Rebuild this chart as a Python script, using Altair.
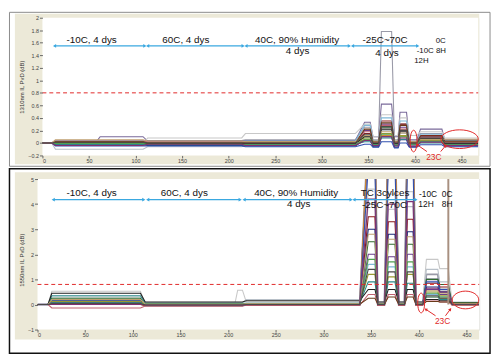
import altair as alt
import pandas as pd

# ---------------- data: top panel (1310nm) ----------------
TOP_PHASE_START = [0, 14, 62, 113, 218, 346, 355, 364, 378, 384, 394, 406, 432]
TOP_PHASE_END = [10, 58, 108, 214, 336, 352, 361, 375, 382, 391, 402, 429, 468]
TOP_LEVELS = [
    [0, 0.02, 0.02, 0.04, 0.05, 0.25, 0.05, 1.78, 0.05, 0.30, 0.03, 0.15, 0.02],
    [0, 0.02, 0.10, 0.03, 0.04, 0.33, 0.10, 0.62, 0.10, 0.49, 0.05, 0.22, 0.05],
    [0, -0.02, -0.02, 0.08, 0.15, 0.30, 0.10, 0.45, 0.12, 0.40, 0.12, 0.18, 0.08],
    [0, -0.10, -0.10, -0.06, -0.04, 0.10, -0.05, 0.20, -0.06, 0.15, -0.05, 0.05, -0.04],
    [0, 0.03, 0.03, 0.01, 0.00, 0.15, 0.02, 0.35, 0.00, 0.30, 0.00, 0.12, 0.02],
    [0, -0.03, -0.03, -0.04, -0.05, 0.05, -0.06, 0.10, -0.07, 0.05, -0.06, 0.02, -0.05],
    [0, 0.00, 0.00, -0.02, 0.00, 0.12, 0.00, 0.25, 0.00, 0.20, 0.00, 0.08, 0.00],
    [0, 0.01, 0.01, 0.00, -0.02, 0.20, -0.02, 0.30, -0.02, 0.25, -0.03, 0.10, -0.03],
    [0, 0.04, 0.04, 0.02, 0.03, 0.28, 0.04, 0.40, 0.03, 0.35, 0.02, 0.14, 0.04],
    [0, 0.02, 0.02, 0.00, 0.02, 0.08, 0.01, 0.15, 0.01, 0.12, 0.01, 0.06, 0.01],
    [0, 0.01, 0.01, -0.01, 0.01, 0.05, 0.00, 0.12, 0.00, 0.10, 0.00, 0.04, 0.00],
    [0, -0.02, -0.02, -0.03, -0.02, 0.02, -0.03, 0.08, -0.04, 0.06, -0.03, 0.00, -0.02],
    [0, 0.00, 0.00, -0.01, -0.01, 0.10, -0.01, 0.22, -0.01, 0.18, -0.01, 0.07, -0.01],
    [0, 0.03, 0.03, 0.02, 0.01, 0.18, 0.01, 0.28, 0.01, 0.22, 0.00, 0.09, 0.01],
    [0, -0.05, -0.05, -0.05, -0.06, -0.02, -0.07, 0.02, -0.08, 0.00, -0.07, -0.03, -0.06],
    [0, 0.02, 0.02, 0.00, 0.00, 0.22, 0.02, 0.32, 0.02, 0.28, 0.01, 0.11, 0.03],
    [0, -0.01, -0.01, -0.02, -0.03, 0.06, -0.03, 0.14, -0.03, 0.10, -0.02, 0.03, -0.03],
    [0, 0.05, 0.05, 0.03, 0.02, 0.12, 0.03, 0.18, 0.03, 0.16, 0.02, 0.06, 0.06],
    [0, -0.04, -0.04, -0.02, -0.04, 0.04, -0.04, 0.10, -0.05, 0.08, -0.05, 0.01, -0.04],
    [0, 0.01, 0.01, 0.00, 0.00, 0.14, 0.00, 0.26, 0.00, 0.20, 0.00, 0.08, 0.00],
]
TOP_COLORS = ["#9a9aa8", "#7a6a9a", "#c8c8c8", "#b8c0c8", "#8b1a1a", "#1c2a78", "#2e6b2e",
              "#6a3d8a", "#7fb8d8", "#9a9a30", "#d08a30", "#2a8a8a", "#202020", "#c06070",
              "#3050b0", "#6a3a1a", "#50a050", "#c0a070", "#803070", "#4a4a4a"]
TOP_WIDTHS = [1.1] * 20

TOP_ARROW_X1 = [13, 113, 218.6, 333]
TOP_ARROW_X2 = [110, 215.5, 329.6, 403]
TOP_ARROW_Y = 1.55
TOP_TEXT = ["-10C, 4 dys", "60C, 4 dys", "40C, 90% Humidity", "4 dys", "-25C~70C", "4 dys",
            "0C", "-10C 8H", "12H"]
TOP_TEXT_X = [52.8, 154, 273.5, 274, 368, 370, 427.7, 417.6, 407]
TOP_TEXT_Y = [1.65, 1.65, 1.645, 1.465, 1.65, 1.43, 1.62, 1.465, 1.31]
TOP_ELLIPSE_X = [398.6, 448]
TOP_ELLIPSE_Y = [0.03, 0.06]
TOP_RED_X1 = [412.9, 427.7]
TOP_RED_Y1 = [-0.138, -0.138]
TOP_RED_X2 = [402.3, 433]
TOP_RED_Y2 = [-0.028, -0.044]
TOP_23C = (420.3, -0.233)

# ---------------- data: bottom panel (1550nm) ----------------
BOT_PHASE_START = [0, 15, 113, 210, 219, 347, 357, 368, 379, 388, 397, 408, 422, 435]
BOT_PHASE_END = [11, 108, 207, 215, 338, 354, 364, 375, 385, 394, 404, 420, 431, 463]
BOT_LEVELS = [
    [0, 0.10, -0.03, -0.03, 0.00, 7.0, 0.00, 7.0, 0.00, 7.0, 0.00, 1.20, 0.60, 0.02],
    [0, 0.05, -0.04, -0.04, -0.01, 6.5, -0.01, 6.5, -0.01, 6.5, 0.00, 1.00, 0.50, 0.00],
    [0, 0.53, 0.02, 0.57, 0.10, 4.6, 0.05, 4.4, 0.05, 4.5, 0.05, 1.80, 1.43, 0.05],
    [0, 0.30, 0.08, 0.08, 0.20, 4.0, 0.10, 3.8, 0.10, 3.9, 0.10, 1.40, 0.90, 0.10],
    [0, 0.00, -0.05, -0.05, -0.02, 3.5, -0.02, 3.3, -0.02, 3.4, -0.02, 0.85, 0.70, -0.02],
    [0, 0.15, 0.00, 0.00, 0.00, 3.0, 0.00, 2.8, 0.00, 2.9, 0.00, 0.70, 0.50, 0.02],
    [0, 0.25, -0.02, -0.02, 0.00, 2.5, 0.00, 2.4, 0.00, 2.4, 0.00, 1.00, 0.80, 0.00],
    [0, 0.10, 0.00, 0.00, 0.02, 2.0, 0.02, 1.9, 0.02, 2.0, 0.02, 0.60, 0.40, 0.03],
    [0, 0.05, 0.00, 0.00, 0.00, 1.6, 0.00, 1.5, 0.00, 1.5, 0.00, 0.40, 0.30, 0.02],
    [0, 0.12, 0.03, 0.03, 0.02, 1.2, 0.02, 1.1, 0.02, 1.2, 0.02, 0.50, 0.35, 0.04],
    [0, 0.02, -0.03, -0.03, -0.02, 7.0, -0.02, 7.0, -0.02, 7.0, -0.02, 0.30, 0.25, -0.01],
    [0, 0.35, 0.05, 0.05, 0.05, 0.9, 0.03, 0.9, 0.03, 0.85, 0.03, 0.30, 0.20, 0.03],
    [0, 0.45, 0.10, 0.10, 0.15, 0.6, 0.10, 0.6, 0.10, 0.6, 0.10, 0.20, 0.15, 0.08],
    [0, -0.14, -0.06, -0.06, -0.03, 0.4, -0.03, 0.4, -0.03, 0.4, -0.03, 0.14, 0.10, -0.02],
    [0, 0.08, -0.01, -0.01, 0.00, 5.5, 0.00, 5.5, 0.00, 5.5, 0.00, 0.90, 0.60, 0.00],
    [0, 0.02, 0.00, 0.00, 0.01, 0.25, 0.01, 0.3, 0.01, 0.3, 0.01, 0.12, 0.10, 0.05],
    [0, 0.06, 0.02, 0.02, 0.01, 1.8, 0.01, 1.7, 0.01, 1.7, 0.01, 0.45, 0.30, 0.06],
    [0, 0.20, 0.01, 0.01, 0.03, 2.8, 0.02, 2.6, 0.02, 2.7, 0.02, 0.55, 0.45, 0.04],
    [0, 0.00, -0.02, -0.02, -0.01, 4.2, -0.01, 4.0, -0.01, 4.1, -0.01, 0.65, 0.50, 0.00],
    [0, 0.04, -0.02, -0.02, 0.00, 1.4, 0.00, 1.3, 0.00, 1.3, 0.00, 0.35, 0.25, 0.01],
]
BOT_COLORS = ["#8b1a2a", "#7a3020", "#a0a0b0", "#80c0e0", "#1c2a78", "#2e6b2e", "#6a3d8a",
              "#9a9a30", "#e09030", "#2a8a8a", "#202020", "#d07080", "#c0c0c0", "#3050b0",
              "#802060", "#d0c030", "#50a050", "#c0a070", "#505050", "#d05030"]
BOT_WIDTHS = [1.9, 1.6] + [1.1] * 18
BOT_MARKER_X = [431]
BOT_ARROW_X1 = [16.5, 115.6, 216.7, 332]
BOT_ARROW_X2 = [111.5, 212.6, 329, 397]
BOT_ARROW_Y = 4.18
BOT_TEXT = ["-10C, 4 dys", "60C, 4 dys", "40C, 90% Humidity", "4 dys", "TC 3cylces", "-25C~70C",
            "-10C", "12H", "0C", "8H"]
BOT_TEXT_X = [56.8, 154, 271.4, 274, 364.6, 364, 409.7, 407.6, 429.8, 429.8]
BOT_TEXT_Y = [4.45, 4.45, 4.45, 4.02, 4.45, 3.98, 4.41, 4.02, 4.41, 4.02]
BOT_ELLIPSE_X = [402.5, 449]
BOT_ELLIPSE_Y = [0.06, 0.18]
BOT_RED_X1 = [417.6, 428]
BOT_RED_Y1 = [-0.45, -0.45]
BOT_RED_X2 = [407.3, 433.1]
BOT_RED_Y2 = [-0.19, -0.19]
BOT_23C = (425, -0.65)

LIMIT = 0.8

# ---------------- styling ----------------
FONT = "Liberation Sans"
BEIGE = "#ECE9D8"
ARROW_BLUE = "#3aa8e0"
RED = "#e02828"


def phase_table(starts, ends, levels, widths):
    rows = []
    for si, lv in enumerate(levels):
        for pi, (a, b) in enumerate(zip(starts, ends)):
            rows.append({"s": f"s{si:02d}", "x": a, "y": lv[pi], "o": 2 * pi, "w": widths[si]})
            rows.append({"s": f"s{si:02d}", "x": b, "y": lv[pi], "o": 2 * pi + 1, "w": widths[si]})
    return pd.DataFrame(rows)


def ellipse_path(w, h):
    m = max(w, h)
    rx, ry = w / m, h / m
    return f"M {-rx} 0 A {rx} {ry} 0 1 0 {rx} 0 A {rx} {ry} 0 1 0 {-rx} 0 Z", m * m


one = pd.DataFrame({"a": [0]})


def panel(starts, ends, levels, colors, widths, xdom, xrange_, ydom, yvals, ytitle, yaxis_off,
          title_x, title_y, width, height, frame, beige, white, frame_color, frame_w,
          arrow_x1, arrow_x2, arrow_y, texts, tx, ty, tsizes, ell_x, ell_y, ell_wh,
          red_x1, red_y1, red_x2, red_y2, red_angles, t23, marker_x=None):
    xs = alt.Scale(domain=xdom, range=xrange_, nice=False, zero=False)
    ys = alt.Scale(domain=ydom, nice=False, zero=False)
    xaxis = alt.Axis(values=list(range(0, 451, 50)), title=None, domain=False, grid=False,
                     tickSize=2.5, tickColor="#666", labelFontSize=5.5, labelColor="#444",
                     labelPadding=1, labelFont=FONT, zindex=1)
    yaxis_kw = dict(values=yvals, title=ytitle, domain=False, grid=False, tickSize=3,
                    tickColor="#666", labelFontSize=5.5, labelColor="#444", labelPadding=1,
                    labelFont=FONT, format="~g", titleFontSize=6, titleFontWeight="normal",
                    titleColor="#333", titleFont=FONT, titleX=title_x, titleY=title_y,
                    titleAngle=270, titleAlign="center", titleBaseline="middle", zindex=1)
    if yaxis_off != 0:
        yaxis_kw["offset"] = yaxis_off
    yaxis = alt.Axis(**yaxis_kw)

    def X(f):
        return alt.X(f, type="quantitative", scale=xs, axis=xaxis)

    def Y(f):
        return alt.Y(f, type="quantitative", scale=ys, axis=yaxis)

    fr = alt.Chart(one).mark_rect(fillOpacity=0, stroke=frame_color, strokeWidth=frame_w).encode(
        x=alt.value(frame[0]), x2=alt.value(frame[1]), y=alt.value(frame[2]), y2=alt.value(frame[3]))
    bg = alt.Chart(one).mark_rect(fill=BEIGE).encode(
        x=alt.value(beige[0]), x2=alt.value(beige[1]), y=alt.value(beige[2]), y2=alt.value(beige[3]))
    wh = alt.Chart(one).mark_rect(fill="white").encode(
        x=alt.value(white[0]), x2=alt.value(white[1]), y=alt.value(white[2]), y2=alt.value(white[3]))

    df = phase_table(starts, ends, levels, widths)
    names = [f"s{i:02d}" for i in range(len(levels))]
    lines = alt.Chart(df).mark_line(clip=True).encode(
        x=X("x"), y=Y("y"),
        color=alt.Color("s:N", scale=alt.Scale(domain=names, range=colors), legend=None),
        strokeWidth=alt.StrokeWidth("w:Q", scale=None),
        order=alt.Order("o:Q"))

    lim = alt.Chart(pd.DataFrame({"x1": [xdom[0]], "x2": [xdom[1]], "y": [LIMIT]})).mark_rule(
        color=RED, strokeDash=[4, 3], strokeWidth=1).encode(x=X("x1"), x2="x2", y=Y("y"))

    ar = pd.DataFrame({"x1": arrow_x1, "x2": arrow_x2, "y": [arrow_y] * len(arrow_x1)})
    arrows = alt.Chart(ar).mark_rule(color=ARROW_BLUE, strokeWidth=1.4).encode(
        x=X("x1"), x2="x2", y=Y("y"))
    head_r = alt.Chart(ar).mark_point(shape="triangle-right", size=14, filled=True,
                                      color=ARROW_BLUE, opacity=1).encode(x=X("x2"), y=Y("y"))
    head_l = alt.Chart(ar).mark_point(shape="triangle-left", size=14, filled=True,
                                      color=ARROW_BLUE, opacity=1).encode(x=X("x1"), y=Y("y"))

    tdf = pd.DataFrame({"t": texts, "x": tx, "y": ty, "fs": tsizes})
    txt = alt.Chart(tdf).mark_text(font=FONT, color="#111", align="center", baseline="middle").encode(
        x=X("x"), y=Y("y"), text="t:N", size=alt.Size("fs:Q", scale=None))

    layers = [fr, bg, wh, lines, lim]
    if marker_x is not None:
        mk = pd.DataFrame({"x": marker_x, "y1": [ydom[0] + 1.0] * len(marker_x), "y2": [ydom[1]] * len(marker_x)})
        layers.append(alt.Chart(mk).mark_rule(color="#a89080", strokeWidth=2).encode(
            x=X("x"), y=Y("y1"), y2="y2"))
    layers += [arrows, head_r, head_l, txt]

    for (ex, ey, (w, h)) in zip(ell_x, ell_y, ell_wh):
        path, size = ellipse_path(w, h)
        layers.append(alt.Chart(pd.DataFrame({"x": [ex], "y": [ey]})).mark_point(
            shape=path, size=size, filled=False, color=RED, strokeWidth=1, opacity=1).encode(
            x=X("x"), y=Y("y")))

    rd = pd.DataFrame({"x1": red_x1, "y1": red_y1, "x2": red_x2, "y2": red_y2, "ang": red_angles})
    layers.append(alt.Chart(rd).mark_rule(color=RED, strokeWidth=1).encode(
        x=X("x1"), y=Y("y1"), x2="x2", y2="y2"))
    layers.append(alt.Chart(rd).mark_point(shape="triangle-up", size=12, filled=True, color=RED,
                                           opacity=1).encode(
        x=X("x2"), y=Y("y2"), angle=alt.Angle("ang:Q", scale=None)))
    layers.append(alt.Chart(pd.DataFrame({"t": ["23C"], "x": [t23[0]], "y": [t23[1]]})).mark_text(
        font=FONT, color=RED, fontSize=8.5, align="center", baseline="middle").encode(
        x=X("x"), y=Y("y"), text="t:N"))

    return alt.layer(*layers).properties(width=width, height=height)


top = panel(TOP_PHASE_START, TOP_PHASE_END, TOP_LEVELS, TOP_COLORS, TOP_WIDTHS,
            xdom=[0, 468], xrange_=[5, 448], ydom=[-0.2, 2],
            yvals=[-0.2, 0, 0.2, 0.4, 0.6, 0.8, 1, 1.2, 1.4, 1.6, 1.8, 2],
            ytitle="1310nm IL PvD (dB)", yaxis_off=-5, title_x=-21, title_y=70,
            width=448, height=140,
            frame=[-28.5, 460, -5.5, 151], beige=[-23, 449, -4, 149], white=[5, 448, 0, 140],
            frame_color="#8a8a8a", frame_w=1,
            arrow_x1=TOP_ARROW_X1, arrow_x2=TOP_ARROW_X2, arrow_y=TOP_ARROW_Y,
            texts=TOP_TEXT, tx=TOP_TEXT_X, ty=TOP_TEXT_Y,
            tsizes=[10, 10, 10, 10, 10, 10, 8, 8, 8],
            ell_x=TOP_ELLIPSE_X, ell_y=TOP_ELLIPSE_Y, ell_wh=[(7, 22), (38, 19)],
            red_x1=TOP_RED_X1, red_y1=TOP_RED_Y1, red_x2=TOP_RED_X2, red_y2=TOP_RED_Y2,
            red_angles=[305, 40], t23=TOP_23C)

bottom = panel(BOT_PHASE_START, BOT_PHASE_END, BOT_LEVELS, BOT_COLORS, BOT_WIDTHS,
               xdom=[0, 463.4], xrange_=[0, 449], ydom=[-1, 5],
               yvals=[-1, 0, 1, 2, 3, 4, 5],
               ytitle="1550nm IL PvD (dB)", yaxis_off=0, title_x=-16, title_y=82,
               width=449, height=153,
               frame=[-28.5, 460, -10.5, 177], beige=[-23, 449, -7, 163], white=[0, 449, 0, 153],
               frame_color="#111111", frame_w=1.5,
               arrow_x1=BOT_ARROW_X1, arrow_x2=BOT_ARROW_X2, arrow_y=BOT_ARROW_Y,
               texts=BOT_TEXT, tx=BOT_TEXT_X, ty=BOT_TEXT_Y,
               tsizes=[10, 10, 10, 10, 10, 10, 8.5, 8.5, 8.5, 8.5],
               ell_x=BOT_ELLIPSE_X, ell_y=BOT_ELLIPSE_Y, ell_wh=[(7, 20), (27, 18)],
               red_x1=BOT_RED_X1, red_y1=BOT_RED_Y1, red_x2=BOT_RED_X2, red_y2=BOT_RED_Y2,
               red_angles=[304, 37], t23=BOT_23C, marker_x=BOT_MARKER_X)

chart = alt.vconcat(top, bottom, spacing=0).properties(padding=0, background="white").configure_view(
    strokeWidth=0).configure(font=FONT)

chart.save("out.html", embed_options={"renderer": "svg", "actions": False})
